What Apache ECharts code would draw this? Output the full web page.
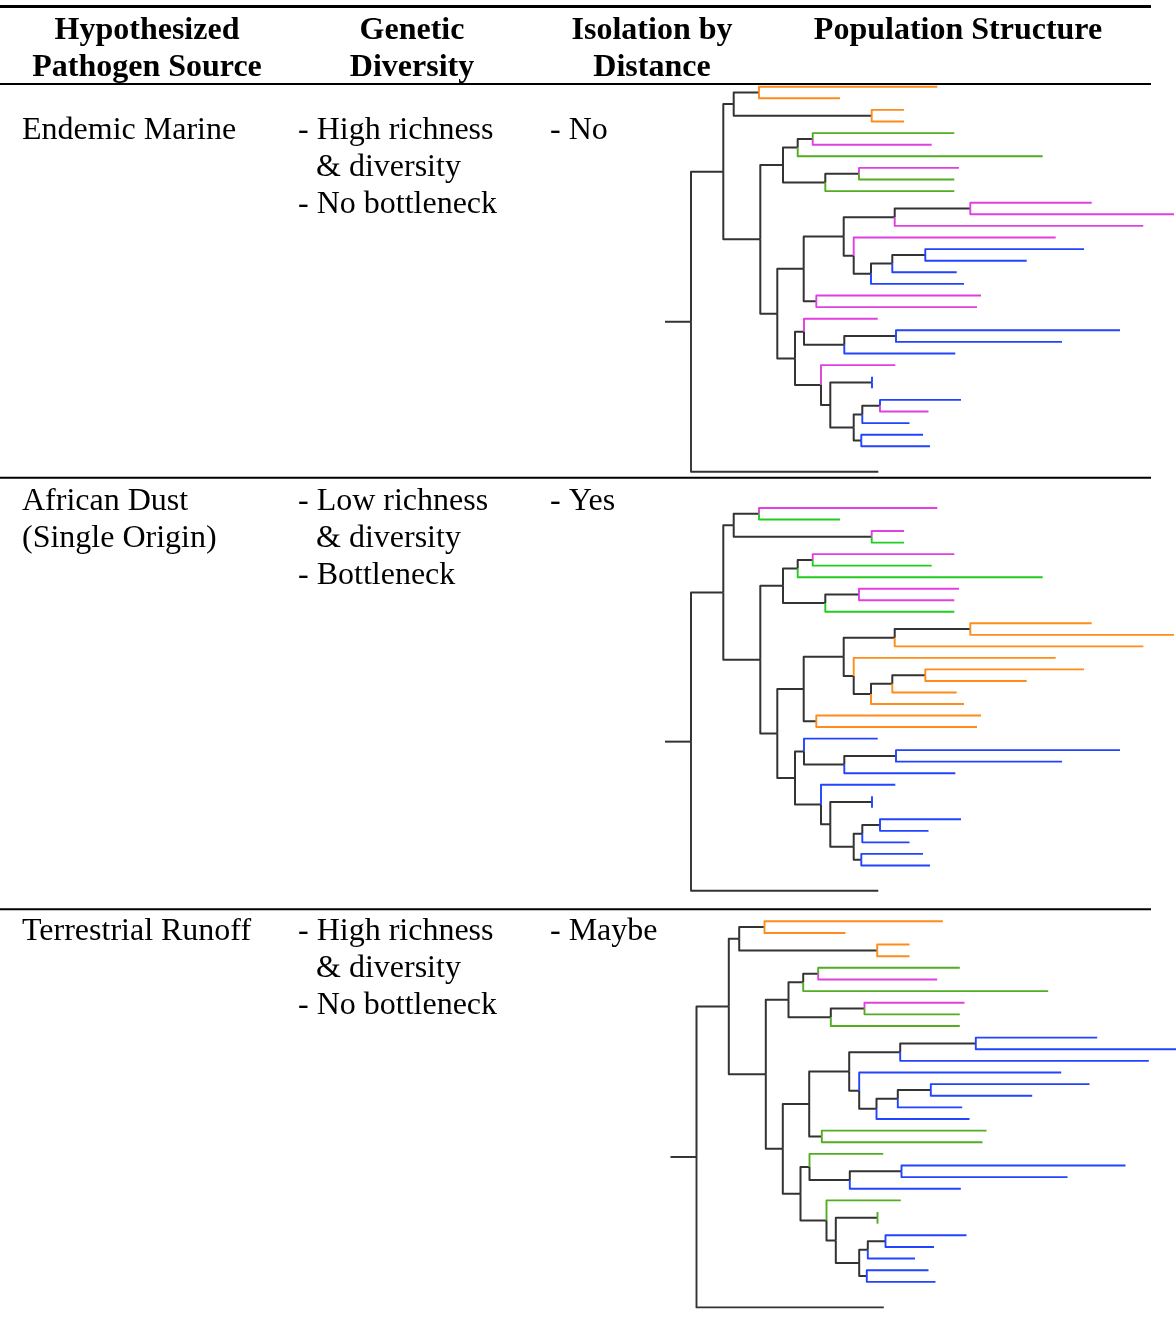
<!DOCTYPE html>
<html><head><meta charset="utf-8">
<script src="https://cdn.jsdelivr.net/npm/echarts@6/dist/echarts.min.js"></script>
<style>html,body{margin:0;padding:0;background:#fff}#c{width:1176px;height:1331px}</style>
</head><body><div id="c"></div>
<script>
// ---------- table text ----------
const headerLines = [["Hypothesized", "Pathogen Source"], ["Genetic", "Diversity"], ["Isolation by", "Distance"], ["Population Structure"]];
const sourceLines = [["Endemic Marine"], ["African Dust", "(Single Origin)"], ["Terrestrial Runoff"]];
const diversityLines = [["- High richness", "& diversity", "- No bottleneck"], ["- Low richness", "& diversity", "- Bottleneck"], ["- High richness", "& diversity", "- No bottleneck"]];
const isolationText = ["- No", "- Yes", "- Maybe"];

// ---------- tree (same topology in all three panels), branch lengths ----------
const cladeOrangeTop = "((t1:178.3,t2:81):25.3,(t3:32.3,t4:32.3):138)";
const cladeMixed = "(((t5:141.6,t6:119):15,t7:245):14.7,((t8:100,t9:95.3):33.7,t10:129):42.3)";
const cladeUpper = "((((t11:121.4,t12:203.7):75.6,t13:248.6):51,(t14:202,(((t15:158.7,t16:101.4):33,t17:64.4):21.3,t18:93):17.3):10):40,(t19:164.7,t20:160.7):12.6)";
const cladeLower = "((t21:73.7,((t22:224,t23:166):51.7,t24:111):40.3):9,(t25:74.3,((t26:0,t27:0):41.7,(((t28:81,t29:48.5):17.7,t30:47.2):8.6,(t31:61.7,t32:68.7):7.6):23.4):9.3):26)";
const treeNewick = "((" + cladeOrangeTop + ":10.4,(" + cladeMixed + ":22.7,(" + cladeUpper + ":26.4," + cladeLower + ":17.7):17):37):32.3,t33:187.3):26;";

// leaf colour groups t1..t33 (O orange, G green, P pink, B blue, K outgroup)
const leafGroupsEndemic = ['O','O','O','O','G','P','G','P','G','G','P','P','P','P','B','B','B','B','P','P','P','B','B','B','P','B','B','B','P','B','B','B','K'];
const leafGroupsDust    = ['P','G','P','G','P','G','G','P','P','G','O','O','O','O','O','O','O','O','O','O','B','B','B','B','B','B','B','B','B','B','B','B','K'];
const leafGroupsRunoff  = ['O','O','O','O','G','P','G','P','G','G','B','B','B','B','B','B','B','B','G','G','G','B','B','B','G','G','G','B','B','B','B','B','K'];

// ---------- styling / layout ----------
const FONT = '"Liberation Serif","Times New Roman",serif';
const FS = 32;
const paletteA = {O:'#FF8C1A', G:'#52AD22', P:'#E040E0', B:'#2244FF', K:'#333333'};
const paletteB = {O:'#FF8C1A', G:'#22CC22', P:'#E040E0', B:'#2244FF', K:'#333333'};
const panels = [
  {groups: leafGroupsEndemic, palette: paletteA, rootX: 691,   topY: 86.7,  rowH: 11.6},
  {groups: leafGroupsDust,    palette: paletteB, rootX: 691,   topY: 508,   rowH: 11.53},
  {groups: leafGroupsRunoff,  palette: paletteA, rootX: 696.5, topY: 921.3, rowH: 11.63}
];
const outgroupExtraRows = 1.2;
const X_MIN = -30, X_MAX = 479, Y_MIN = -1, Y_MAX = 35;

function parseNewick(str) {
  const s = str.replace(/\s+/g, '');
  let i = 0;
  function node() {
    const n = {children: [], name: '', len: 0};
    if (s[i] === '(') {
      i++;
      n.children.push(node());
      while (s[i] === ',') { i++; n.children.push(node()); }
      i++;
    }
    let name = '';
    while (i < s.length && ':,);'.indexOf(s[i]) < 0) name += s[i++];
    n.name = name;
    if (s[i] === ':') {
      i++;
      let num = '';
      while (i < s.length && ',);'.indexOf(s[i]) < 0) num += s[i++];
      n.len = parseFloat(num);
    }
    return n;
  }
  return node();
}

function layoutTree(root) {
  let row = 0;
  const leaves = [];
  function walk(n, x) {
    n.x = x;
    if (!n.children.length) {
      if (n.name === 't33') row += outgroupExtraRows;
      n.y = row; row += 1;
      leaves.push(n);
    } else {
      n.children.forEach(c => walk(c, x + c.len));
      n.y = (n.children[0].y + n.children[n.children.length - 1].y) / 2;
    }
  }
  walk(root, 0);
  return leaves;
}

const option = {animation: false, grid: [], xAxis: [], yAxis: [], series: [], graphic: []};

panels.forEach((p, k) => {
  const root = parseNewick(treeNewick);
  const leaves = layoutTree(root);
  leaves.forEach((lf, idx) => { lf.group = p.groups[idx]; });
  const segs = [];
  segs.push({coords: [[-root.len, root.y], [0, root.y]], lineStyle: {color: '#333333', width: 2}});
  (function edges(n) {
    n.children.forEach(c => {
      const isLeaf = !c.children.length;
      const col = isLeaf ? p.palette[c.group] : '#333333';
      segs.push({coords: [[n.x, n.y], [n.x, c.y], [c.x, c.y]], lineStyle: {color: col, width: isLeaf ? 1.9 : 2}});
      edges(c);
    });
  })(root);
  option.grid.push({left: p.rootX + X_MIN, top: p.topY + Y_MIN * p.rowH, width: X_MAX - X_MIN, height: (Y_MAX - Y_MIN) * p.rowH, outerBoundsMode: 'none', containLabel: false});
  option.xAxis.push({type: 'value', gridIndex: k, min: X_MIN, max: X_MAX, show: false});
  option.yAxis.push({type: 'value', gridIndex: k, min: Y_MIN, max: Y_MAX, inverse: true, show: false});
  option.series.push({
    type: 'lines', coordinateSystem: 'cartesian2d', xAxisIndex: k, yAxisIndex: k,
    polyline: true, clip: false, silent: true,
    lineStyle: {width: 2, opacity: 1, join: 'round', cap: 'butt'},
    data: segs
  });
});

// text
function txt(x, y, s, bold, align) {
  option.graphic.push({type: 'text', x: x, y: y, silent: true,
    style: {text: s, font: (bold ? 'bold ' : '') + FS + 'px ' + FONT, fill: '#000', textAlign: align || 'left', textVerticalAlign: 'middle'}});
}
function rule(y, w) {
  option.graphic.push({type: 'line', silent: true, shape: {x1: 0, y1: y, x2: 1151, y2: y}, style: {stroke: '#000', lineWidth: w}});
}
const headerCenters = [147, 412, 652, 958];
const lineGap = 37;
headerLines.forEach((lines, c) => lines.forEach((s, j) => txt(headerCenters[c], 31 + j * lineGap, s, true, 'center')));
const rowTops = [131, 502, 932];
rowTops.forEach((y0, r) => {
  sourceLines[r].forEach((s, j) => txt(22, y0 + j * lineGap, s, false));
  diversityLines[r].forEach((s, j) => txt(s.charAt(0) === '&' ? 316 : 298, y0 + j * lineGap, s, false));
  txt(550, y0, isolationText[r], false);
});
rule(6.5, 3);
rule(84, 2);
rule(477.8, 2);
rule(909.2, 2);

const chart = echarts.init(document.getElementById('c'), null, {renderer: 'canvas'});
chart.setOption(option);
</script></body></html>
